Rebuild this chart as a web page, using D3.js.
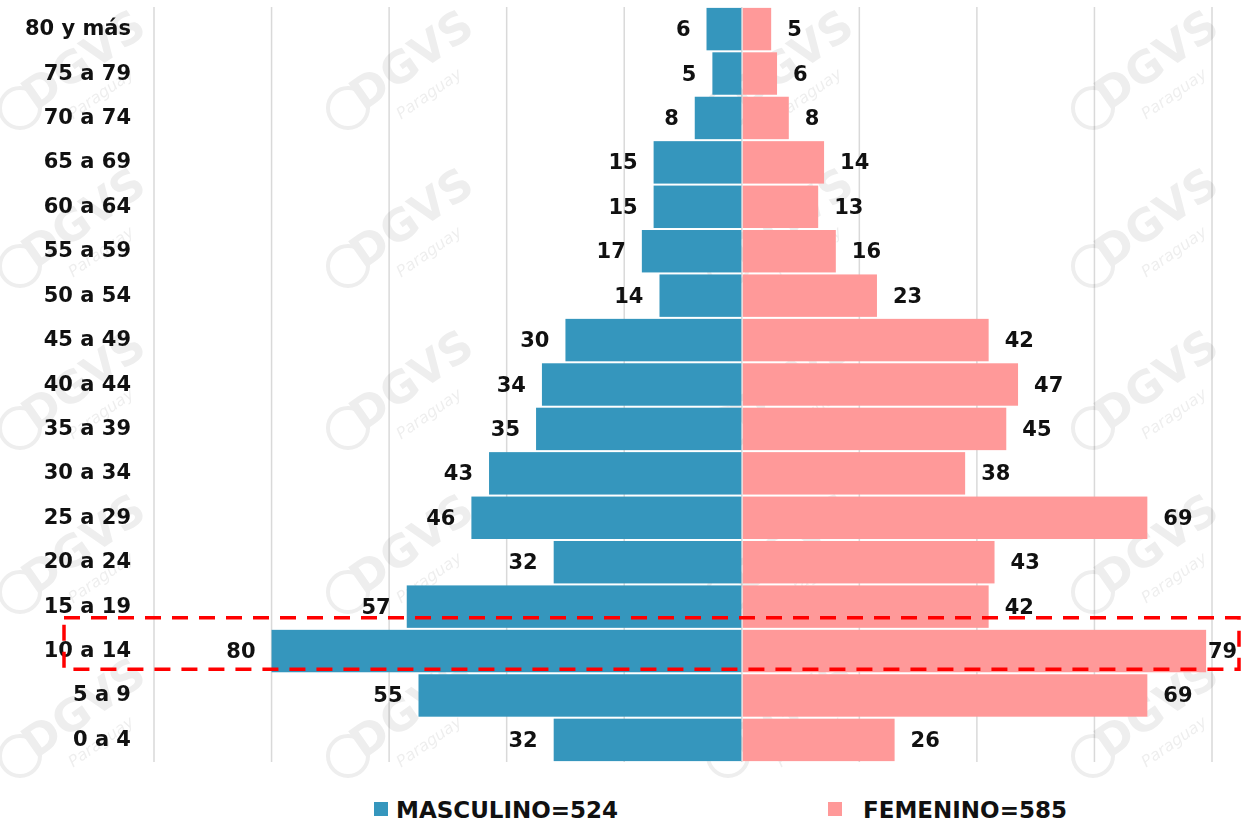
<!DOCTYPE html>
<html>
<head>
<meta charset="utf-8">
<script src="https://cdn.jsdelivr.net/npm/d3@7"></script>
<style>
  body { margin: 0; background: #fff; }
  svg { display: block; font-family: "DejaVu Sans", sans-serif; font-weight: bold; }
</style>
</head>
<body>
<script>
// Age groups, top to bottom
var ageGroups = ["80 y más", "75 a 79", "70 a 74", "65 a 69", "60 a 64", "55 a 59", "50 a 54",
  "45 a 49", "40 a 44", "35 a 39", "30 a 34", "25 a 29", "20 a 24", "15 a 19", "10 a 14", "5 a 9", "0 a 4"];
var maleValues = [6, 5, 8, 15, 15, 17, 14, 30, 34, 35, 43, 46, 32, 57, 80, 55, 32];
var femaleValues = [5, 6, 8, 14, 13, 16, 23, 42, 47, 45, 38, 69, 43, 42, 79, 69, 26];
var gridTicks = [-100, -80, -60, -40, -20, 0, 20, 40, 60, 80];
var highlightGroup = "10 a 14";

var w = 1243;
var h = 825;
var blue = "#3596bd";
var pink = "#ff9999";

var svg = d3.select("body")
    .append("svg")
    .attr("width", w)
    .attr("height", h);

// Scales
var xScale = d3.scaleLinear()
    .domain([-100, 80])
    .range([154, 1212]);
var yScale = d3.scaleBand()
    .domain(ageGroups)
    .range([7, 762])
    .paddingInner(0.045)
    .paddingOuter(0.02);

// Vertical grid lines
svg.append("g")
    .attr("class", "grid")
    .selectAll("line")
    .data(gridTicks)
    .enter()
    .append("line")
    .attr("x1", function(d) { return xScale(d); })
    .attr("x2", function(d) { return xScale(d); })
    .attr("y1", 7)
    .attr("y2", 762)
    .attr("stroke", "#d9d9d9")
    .attr("stroke-width", 1.5);

// Watermark (faint, repeated)
var wmX = [92, 420, 800, 1165];
var wmY = [72, 230, 392, 556, 720];
var wm = svg.append("g").attr("class", "watermark").attr("opacity", 0.07);
wmX.forEach(function(x) {
  wmY.forEach(function(y) {
    var g = wm.append("g").attr("transform", "translate(" + x + "," + y + ")");
    g.append("text")
        .attr("transform", "rotate(-35)")
        .attr("text-anchor", "middle")
        .style("font-size", "44px")
        .attr("fill", "#000")
        .text("DGVS");
    g.append("text")
        .attr("transform", "translate(12,26) rotate(-35)")
        .attr("text-anchor", "middle")
        .style("font-size", "16px")
        .style("font-weight", "normal")
        .style("font-style", "italic")
        .attr("fill", "#000")
        .text("Paraguay");
    g.append("circle")
        .attr("cx", -72)
        .attr("cy", 36)
        .attr("r", 20)
        .attr("fill", "none")
        .attr("stroke", "#000")
        .attr("stroke-width", 4);
  });
});

// Male bars (left)
svg.selectAll(".male")
    .data(maleValues)
    .enter()
    .append("rect")
    .attr("class", "male")
    .attr("x", function(d) { return xScale(-d); })
    .attr("y", function(d, i) { return yScale(ageGroups[i]); })
    .attr("width", function(d) { return xScale(0) - 0.5 - xScale(-d); })
    .attr("height", yScale.bandwidth())
    .attr("fill", blue);

// Female bars (right)
svg.selectAll(".female")
    .data(femaleValues)
    .enter()
    .append("rect")
    .attr("class", "female")
    .attr("x", xScale(0) + 1)
    .attr("y", function(d, i) { return yScale(ageGroups[i]); })
    .attr("width", function(d) { return xScale(d) - xScale(0) - 1; })
    .attr("height", yScale.bandwidth())
    .attr("fill", pink);

// Value labels
svg.selectAll(".maleLabel")
    .data(maleValues)
    .enter()
    .append("text")
    .attr("class", "maleLabel")
    .attr("x", function(d) { return xScale(-d) - 16; })
    .attr("y", function(d, i) { return yScale(ageGroups[i]) + yScale.bandwidth() / 2 + 1; })
    .attr("dominant-baseline", "middle")
    .attr("text-anchor", "end")
    .style("font-size", "21px")
    .attr("fill", "#111")
    .text(function(d) { return d; });

svg.selectAll(".femaleLabel")
    .data(femaleValues)
    .enter()
    .append("text")
    .attr("class", "femaleLabel")
    .attr("x", function(d) { return Math.min(xScale(d) + 16, w - 35); })
    .attr("y", function(d, i) { return yScale(ageGroups[i]) + yScale.bandwidth() / 2 + 1; })
    .attr("dominant-baseline", "middle")
    .style("font-size", "21px")
    .attr("fill", "#111")
    .text(function(d) { return d; });

// Category labels
svg.selectAll(".ageLabel")
    .data(ageGroups)
    .enter()
    .append("text")
    .attr("class", "ageLabel")
    .attr("x", 131)
    .attr("y", function(d) { return yScale(d) + yScale.bandwidth() / 2; })
    .attr("dominant-baseline", "middle")
    .attr("text-anchor", "end")
    .style("font-size", "21px")
    .attr("fill", "#111")
    .text(function(d) { return d; });

// Red dashed box round the highlighted group
var hy = yScale(highlightGroup);
svg.append("rect")
    .attr("x", 64)
    .attr("y", hy - 12)
    .attr("width", 1175)
    .attr("height", yScale.bandwidth() + 9)
    .attr("fill", "none")
    .attr("stroke", "#ff0000")
    .attr("stroke-width", 3.5)
    .attr("stroke-dasharray", "16,11");

// Legend
var legendItems = [
  { label: "MASCULINO=" + d3.sum(maleValues), color: blue, x: 374 },
  { label: "FEMENINO=" + d3.sum(femaleValues), color: pink, x: 828 }
];
var legend = svg.selectAll(".legend")
    .data(legendItems)
    .enter()
    .append("g")
    .attr("class", "legend")
    .attr("transform", function(d) { return "translate(" + d.x + ",0)"; });

legend.append("rect")
    .attr("x", 0)
    .attr("y", 802)
    .attr("width", 14)
    .attr("height", 14)
    .attr("fill", function(d) { return d.color; });

legend.append("text")
    .attr("x", function(d, i) { return i == 0 ? 22 : 35; })
    .attr("y", 818)
    .style("font-size", "23px")
    .attr("fill", "#111")
    .text(function(d) { return d.label; });
</script>
</body>
</html>
